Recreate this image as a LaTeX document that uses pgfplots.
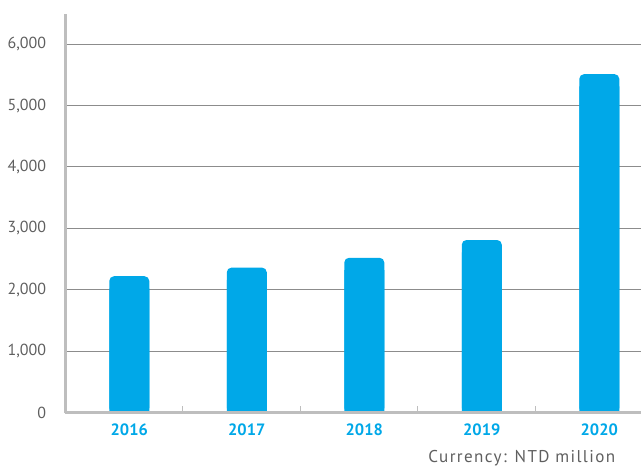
\documentclass[border=0pt]{standalone}
\usepackage{fontspec}
\setmainfont{PT Sans}
\usepackage{pgfplots}
\usepackage{pgfplotstable}
\pgfplotsset{compat=1.18}
\definecolor{barblue}{RGB}{0,168,232}
\definecolor{axgray}{RGB}{190,190,190}
\definecolor{gridgray}{RGB}{140,140,140}
\definecolor{txtgray}{RGB}{95,95,95}
\pgfplotstableread{
x v
0 2220
1 2360
2 2520
3 2810
4 5510
}\datatable
\begin{document}
\begin{tikzpicture}
\useasboundingbox (-49.1pt,-40.9pt) rectangle (431.6pt,309.4pt);
\begin{axis}[
  at={(0,0)}, anchor=south west,
  scale only axis, width=431.6pt, height=298.9pt,
  xmin=-0.543, xmax=4.355,
  ymin=0, ymax=6490,
  clip=false,
  axis x line*=bottom, axis y line*=left,
  axis line style={draw=axgray, line width=2.2pt, -},
  ytick={0,1000,...,6000},
  ymajorgrids,
  grid style={draw=gridgray, line width=0.8pt},
  major tick length=0pt,
  xtick={0,1,2,3,4},
  xticklabels={2016,2017,2018,2019,2020},
  extra x ticks={0.455,1.455,2.455,3.455},
  extra x tick labels={},
  extra x tick style={major tick length=5pt, tick style={draw=axgray, line width=1pt}, tick align=inside, grid=none},
  x tick label style={font=\bfseries\fontsize{12.3}{14}\selectfont, text=barblue, yshift=-5pt},
  y tick label style={font=\fontsize{12}{14}\selectfont, text=txtgray, xshift=-11pt},
  /pgf/number format/assume math mode=true,
  /pgf/number format/1000 sep={,},
  scaled y ticks=false,
]
\addplot[ybar, bar width=30pt, fill=barblue, draw=none, rounded corners=3.5pt] table[x=x, y=v] {\datatable};
\addplot[ybar, bar width=30pt, fill=barblue, draw=none] table[x=x, y expr=\thisrow{v}-200] {\datatable};
\draw[axgray, line width=2.2pt] (rel axis cs:0,0) -- (rel axis cs:1,0);
\end{axis}
\node[anchor=base east, text=txtgray, inner sep=0pt, font=\fontsize{12.8}{14}\selectfont\addfontfeature{LetterSpace=8}] at (412.4pt,-37.8pt) {Currency: NTD million};
\end{tikzpicture}
\end{document}
